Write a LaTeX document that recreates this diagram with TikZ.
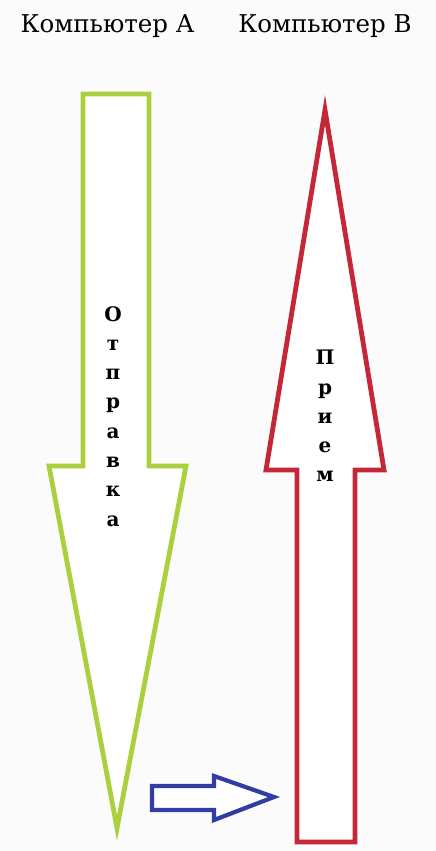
\documentclass[tikz,border=0pt]{standalone}
\usepackage{fontspec}
\setmainfont{DejaVu Serif}
\definecolor{sendgreen}{RGB}{170,208,62}
\definecolor{recvred}{RGB}{196,40,56}
\definecolor{flowblue}{RGB}{50,60,165}
\definecolor{bgpaper}{RGB}{252,251,252}
\begin{document}
\begin{tikzpicture}[x=1pt,y=-1pt,
  shapeline/.style={line width=4.8pt, line join=miter, fill=white},
  title/.style={font=\fontsize{24.5}{27}\selectfont, inner sep=0pt, anchor=base},
  vertword/.style={font=\bfseries\fontsize{20}{29.3}\selectfont, align=center, inner sep=0pt, anchor=north}]
\useasboundingbox (0,0) rectangle (436,851);
\fill[bgpaper] (0,0) rectangle (436,851);
% green arrow (send)
\draw[shapeline, draw=sendgreen] (83,94) -- (149,94) -- (149,466) -- (186,466) -- (117,828) -- (49,466) -- (83,466) -- cycle;
% red arrow (receive)
\draw[shapeline, draw=recvred] (325,110) -- (384,470) -- (355,470) -- (355,842) -- (297,842) -- (297,470) -- (266,470) -- cycle;
% blue arrow
\draw[shapeline, draw=flowblue, line width=4.2pt] (152,786) -- (214,786) -- (214,776) -- (274,797) -- (214,820) -- (214,810) -- (152,810) -- cycle;
% titles
\node[title] (ta) at (107.5,33) {Компьютер А};
\node[title] (tb) at (325,33) {Компьютер В};
% vertical words
\node[vertword] (send) at (113,306) {О\\т\\п\\р\\а\\в\\к\\а};
\node[vertword] (recv) at (325,350) {П\\р\\и\\е\\м};
\end{tikzpicture}
\end{document}
